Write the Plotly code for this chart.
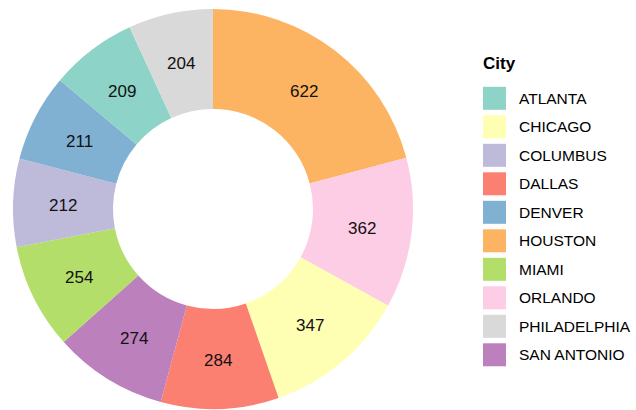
import math
import plotly.graph_objects as go

# Data
cities = ["HOUSTON", "ORLANDO", "CHICAGO", "DALLAS", "SAN ANTONIO",
          "MIAMI", "COLUMBUS", "DENVER", "ATLANTA", "PHILADELPHIA"]
counts = [622, 362, 347, 284, 274, 254, 212, 211, 209, 204]
legend_order = ["ATLANTA", "CHICAGO", "COLUMBUS", "DALLAS", "DENVER",
                "HOUSTON", "MIAMI", "ORLANDO", "PHILADELPHIA", "SAN ANTONIO"]
palette = {
    "ATLANTA": "#8DD3C7", "CHICAGO": "#FFFFB3", "COLUMBUS": "#BEBADA",
    "DALLAS": "#FB8072", "DENVER": "#80B1D3", "HOUSTON": "#FDB462",
    "MIAMI": "#B3DE69", "ORLANDO": "#FCCDE5", "PHILADELPHIA": "#D9D9D9",
    "SAN ANTONIO": "#BC80BD",
}
legend_title = "City"

W, H = 636, 410
FONT = "Liberation Sans, Arial, sans-serif"

# pie geometry (pixels)
CX, CY, R, HOLE = 213, 209, 200, 0.5


def px_x(x):
    return x / W


def px_y(y):
    return 1 - y / H


fig = go.Figure()
fig.add_trace(go.Pie(
    labels=cities,
    values=counts,
    sort=False,
    direction="clockwise",
    rotation=0,
    hole=HOLE,
    marker=dict(colors=[palette[c] for c in cities], line=dict(width=0)),
    textinfo="none",
    showlegend=False,
    hoverinfo="label+value",
    domain=dict(x=[px_x(CX - R), px_x(CX + R)], y=[px_y(CY + R), px_y(CY - R)]),
))

annotations = []
# value labels at the middle of the ring, derived from the data
total = sum(counts)
cum = 0
r_lab = R * (1 + HOLE) / 2
for c, v in zip(cities, counts):
    mid = (cum + v / 2) / total * 2 * math.pi
    cum += v
    annotations.append(dict(
        text=str(v),
        x=px_x(CX + r_lab * math.sin(mid)),
        y=px_y(CY - r_lab * math.cos(mid) + 1.5),
        xref="paper", yref="paper", xanchor="center", yanchor="middle",
        showarrow=False, font=dict(family=FONT, size=17, color="#111111"),
    ))

shapes = []
annotations.append(dict(
    text="<b>" + legend_title + "</b>", x=px_x(481), y=px_y(63),
    xref="paper", yref="paper", xanchor="left", yanchor="middle",
    showarrow=False, font=dict(family=FONT, size=17, color="black"),
))
y0 = 98.3
step = 28.5
for i, c in enumerate(legend_order):
    cy = y0 + i * step
    shapes.append(dict(
        type="rect", xref="paper", yref="paper",
        x0=px_x(483), x1=px_x(506), y0=px_y(cy - 11.5), y1=px_y(cy + 11.5),
        fillcolor=palette[c], line=dict(width=0),
    ))
    annotations.append(dict(
        text=c, x=px_x(517), y=px_y(cy), xref="paper", yref="paper",
        xanchor="left", yanchor="middle", showarrow=False,
        font=dict(family=FONT, size=15.5, color="black"),
    ))

fig.update_layout(
    width=W, height=H,
    margin=dict(l=0, r=0, t=0, b=0),
    paper_bgcolor="white", plot_bgcolor="white",
    shapes=shapes, annotations=annotations,
    font=dict(family=FONT),
)

fig.write_html("out.html",
               config={"displayModeBar": False},
               post_script="document.body.style.margin='0px';document.body.style.overflow='hidden';")
